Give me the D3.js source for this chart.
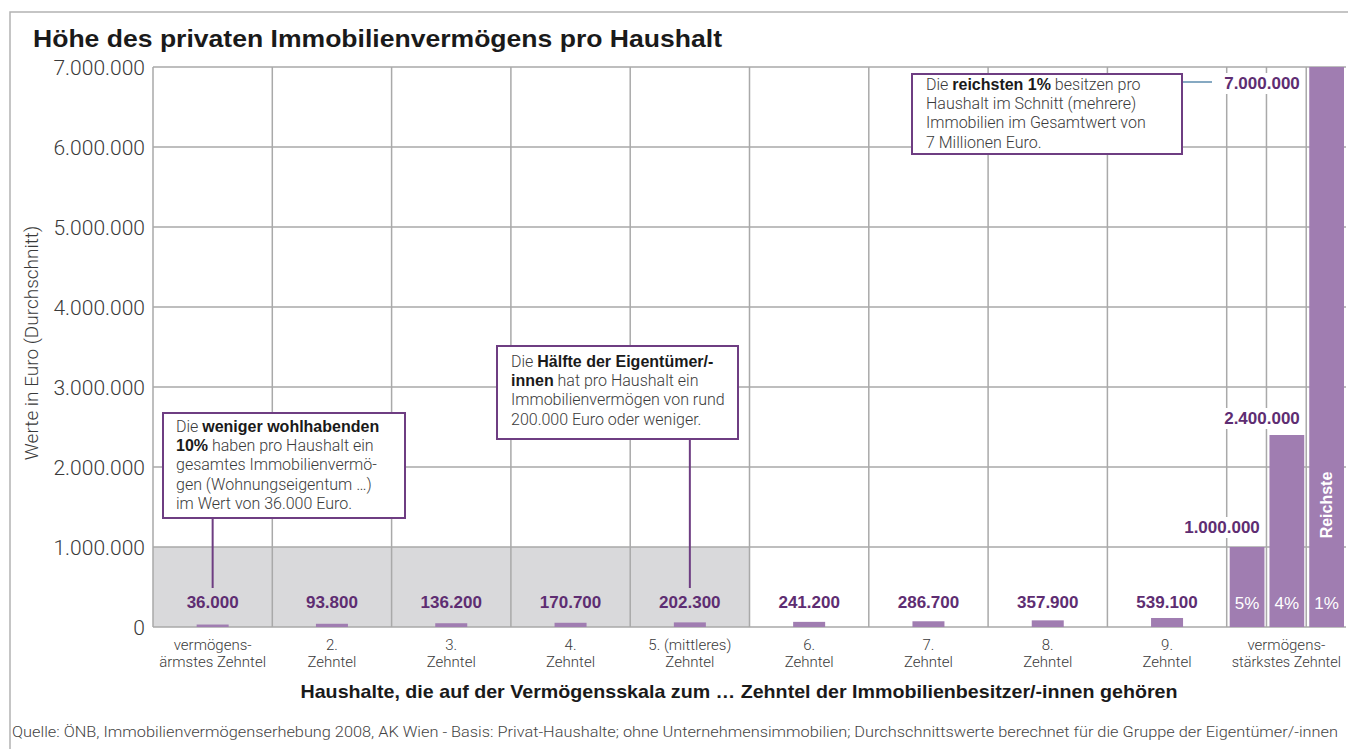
<!DOCTYPE html>
<html>
<head>
<meta charset="utf-8">
<script src="https://cdn.jsdelivr.net/npm/d3@7"></script>
<style>
  body { margin: 0; background: #fff; }
  text { font-family: "Liberation Sans", Arial, sans-serif; }
  .light { font-family: Roboto, "Liberation Sans", Arial, sans-serif; font-weight: 300; }
</style>
</head>
<body>
<div id="chart"></div>
<script>
// data
var categories = ["d1", "d2", "d3", "d4", "d5", "d6", "d7", "d8", "d9", "top"];
var catLabels = [
  ["vermögens-", "ärmstes Zehntel"], ["2.", "Zehntel"], ["3.", "Zehntel"], ["4.", "Zehntel"],
  ["5. (mittleres)", "Zehntel"], ["6.", "Zehntel"], ["7.", "Zehntel"], ["8.", "Zehntel"],
  ["9.", "Zehntel"], ["vermögens-", "stärkstes Zehntel"]
];
var decileValues = [36000, 93800, 136200, 170700, 202300, 241200, 286700, 357900, 539100];
var topGroups = ["5%", "4%", "1%"];
var topValues = [1000000, 2400000, 7000000];
var topLabels = ["1.000.000", "2.400.000", "7.000.000"];
var yTicks = [0, 1000000, 2000000, 3000000, 4000000, 5000000, 6000000, 7000000];
var shadedMax = 1000000;   // grey zone behind the lower half
var shadedCount = 5;

var notes = [
  { col: 0, lines: [[["Die ", 0], ["weniger wohlhabenden", 1]], [["10%", 1], [" haben pro Haushalt ein", 0]],
    [["gesamtes Immobilienvermö-", 0]], [["gen (Wohnungseigentum …)", 0]], [["im Wert von 36.000 Euro.", 0]]] },
  { col: 4, lines: [[["Die ", 0], ["Hälfte der Eigentümer/-", 1]], [["innen", 1], [" hat pro Haushalt ein", 0]],
    [["Immobilienvermögen von rund", 0]], [["200.000 Euro oder weniger.", 0]]] },
  { col: 9, lines: [[["Die ", 0], ["reichsten 1%", 1], [" besitzen pro", 0]], [["Haushalt im Schnitt (mehrere)", 0]],
    [["Immobilien im Gesamtwert von", 0]], [["7 Millionen Euro.", 0]]] }
];

var purple = "#5e2d72", barCol = "#a07db1", boxCol = "#6e3d82", grid = "#a9a9a9", txt = "#3a3a3a";

var svg = d3.select("#chart").append("svg")
  .attr("width", 1348).attr("height", 749);

// frame
svg.append("path").attr("d", "M10,749V12H1348")
  .attr("fill", "none").attr("stroke", "#b3b3b3").attr("stroke-width", 1.5);

svg.append("text").attr("x", 33).attr("y", 47)
  .attr("font-size", 24).attr("font-weight", "bold").attr("fill", "#1a1a1a")
  .attr("textLength", 689).attr("lengthAdjust", "spacingAndGlyphs")
  .text("Höhe des privaten Immobilienvermögens pro Haushalt");

var plotLeft = 153, plotRight = 1346, plotTop = 67, plotBottom = 627;

var x = d3.scaleBand().domain(categories).range([plotLeft, plotRight]).padding(0);
var xTop = d3.scaleBand().domain(topGroups).range([x("top"), x("top") + x.bandwidth()]);
var y = d3.scaleLinear().domain([0, 7000000]).range([plotBottom, plotTop]);
// the small decile bars are drawn as markers, not to the main scale
var yStub = d3.scaleLinear().domain([0, 1000000]).range([0, 13]);

// grey zone
svg.append("rect")
  .attr("x", plotLeft).attr("y", y(shadedMax))
  .attr("width", x(categories[shadedCount]) - plotLeft)
  .attr("height", y(0) - y(shadedMax))
  .attr("fill", "#d9d9db");

// grid
var g = svg.append("g");
g.selectAll(".h").data(yTicks).enter().append("line")
  .attr("x1", plotLeft).attr("x2", plotRight)
  .attr("y1", function(d) { return y(d); }).attr("y2", function(d) { return y(d); })
  .attr("stroke", grid).attr("stroke-width", 1.5);
var vx = categories.map(function(c) { return x(c); }).concat(topGroups.slice(1).map(function(c) { return xTop(c); }));
g.selectAll(".v").data(vx).enter().append("line")
  .attr("x1", function(d) { return d; }).attr("x2", function(d) { return d; })
  .attr("y1", plotTop).attr("y2", plotBottom)
  .attr("stroke", grid).attr("stroke-width", 1.5);

// y axis labels
svg.append("g").attr("transform", "translate(" + (plotLeft - 8) + ",0)")
  .call(d3.axisLeft(y).tickValues(yTicks).tickSize(0).tickPadding(0)
    .tickFormat(function(d) { return d3.format(",")(d).replace(/,/g, "."); }))
  .call(function(a) { a.select(".domain").remove(); })
  .selectAll("text")
    .attr("class", "light").attr("font-size", 21).attr("fill", txt).attr("font-family", null)
    .attr("dy", "0.36em");

svg.append("text").attr("class", "light")
  .attr("transform", "translate(38,343) rotate(-90)")
  .attr("text-anchor", "middle").attr("font-size", 19).attr("fill", txt)
  .text("Werte in Euro (Durchschnitt)");

// decile bars
var cx = function(i) { return x(categories[i]) + x.bandwidth() / 2; };
svg.selectAll(".bar").data(decileValues).enter().append("rect")
  .attr("x", function(d, i) { return cx(i) - 16; })
  .attr("y", function(d) { return plotBottom - 2 - yStub(d); })
  .attr("width", 32)
  .attr("height", function(d) { return 2 + yStub(d); })
  .attr("fill", barCol);

svg.selectAll(".val").data(decileValues).enter().append("text")
  .attr("x", function(d, i) { return cx(i); })
  .attr("y", 608)
  .attr("text-anchor", "middle").attr("font-size", 17).attr("font-weight", "bold").attr("fill", purple)
  .text(function(d) { return d3.format(",")(d).replace(/,/g, "."); });

// top decile bars
svg.selectAll(".tbar").data(topValues).enter().append("rect")
  .attr("x", function(d, i) { return xTop(topGroups[i]) + 3; })
  .attr("y", function(d) { return y(d); })
  .attr("width", xTop.bandwidth() - 5)
  .attr("height", function(d) { return y(0) - y(d); })
  .attr("fill", barCol);

svg.selectAll(".tlab").data(topGroups).enter().append("text")
  .attr("x", function(d) { return xTop(d) + xTop.bandwidth() / 2 + 0.5; })
  .attr("y", 609)
  .attr("text-anchor", "middle").attr("font-size", 17).attr("fill", "#fff")
  .text(function(d) { return d; });

svg.append("text")
  .attr("transform", "translate(" + (xTop("1%") + xTop.bandwidth() / 2 + 6) + ",505) rotate(-90)")
  .attr("text-anchor", "middle").attr("font-size", 16).attr("font-weight", "bold").attr("fill", "#fff")
  .text("Reichste");

// value labels of the top groups, white backing over the grid
var topPos = [{ x: 1222, y: 533 }, { x: 1262, y: 424 }, { x: 1262, y: 89 }];
topLabels.forEach(function(l, i) {
  svg.append("rect").attr("x", topPos[i].x - 42).attr("y", topPos[i].y - 16)
    .attr("width", 84).attr("height", 21).attr("fill", "#fff");
  svg.append("text").attr("x", topPos[i].x).attr("y", topPos[i].y)
    .attr("text-anchor", "middle").attr("font-size", 17).attr("font-weight", "bold").attr("fill", purple)
    .text(l);
});

// annotation boxes
var boxes = [
  { x: 163, y: 413, w: 242, h: 105, tx: 176, ty: 432 },
  { x: 497, y: 346, w: 241, h: 93, tx: 511, ty: 367 },
  { x: 912, y: 74, w: 270, h: 80, tx: 926, ty: 90 }
];
notes.forEach(function(n, i) {
  var b = boxes[i];
  if (n.col < 9) {
    svg.append("line").attr("x1", cx(n.col)).attr("x2", cx(n.col))
      .attr("y1", b.y + b.h).attr("y2", 588)
      .attr("stroke", boxCol).attr("stroke-width", 2);
  } else {
    svg.append("line").attr("x1", b.x + b.w).attr("x2", 1212)
      .attr("y1", 82).attr("y2", 82)
      .attr("stroke", "#86a9c2").attr("stroke-width", 2);
  }
  svg.append("rect").attr("x", b.x).attr("y", b.y).attr("width", b.w).attr("height", b.h)
    .attr("fill", "#fff").attr("stroke", boxCol).attr("stroke-width", 2);
  var t = svg.append("text").attr("font-size", 16).attr("fill", txt);
  n.lines.forEach(function(line, j) {
    line.forEach(function(seg, k) {
      var s = t.append("tspan").text(seg[0])
        .attr("class", seg[1] ? null : "light")
        .attr("font-weight", seg[1] ? "bold" : null)
        .attr("fill", seg[1] ? "#1a1a1a" : txt)
        .style("white-space", "pre");
      if (k === 0) s.attr("x", b.tx).attr("y", b.ty + j * 19.2);
    });
  });
});

// category labels, one text per line
catLabels.forEach(function(l, i) {
  var px = x(categories[i]) + x.bandwidth() / 2;
  l.forEach(function(s, j) {
    var t = svg.append("text").attr("class", "light").attr("text-anchor", "middle")
      .attr("font-size", 15).attr("fill", txt)
      .attr("x", px).attr("y", 650 + j * 17).text(s);
    var maxW = x.bandwidth() - 10;
    if (t.node().getComputedTextLength() > maxW) {
      t.attr("textLength", maxW).attr("lengthAdjust", "spacingAndGlyphs");
    }
  });
});

svg.append("text").attr("x", 739).attr("y", 698)
  .attr("text-anchor", "middle").attr("font-size", 19).attr("font-weight", "bold").attr("fill", "#1a1a1a")
  .attr("textLength", 877).attr("lengthAdjust", "spacingAndGlyphs")
  .text("Haushalte, die auf der Vermögensskala zum … Zehntel der Immobilienbesitzer/-innen gehören");

svg.append("text").attr("class", "light").attr("x", 12).attr("y", 737)
  .attr("font-size", 15).attr("fill", "#444")
  .attr("textLength", 1326).attr("lengthAdjust", "spacingAndGlyphs")
  .text("Quelle: ÖNB, Immobilienvermögenserhebung 2008, AK Wien - Basis: Privat-Haushalte; ohne Unternehmensimmobilien; Durchschnittswerte berechnet für die Gruppe der Eigentümer/-innen");
</script>
</body>
</html>
